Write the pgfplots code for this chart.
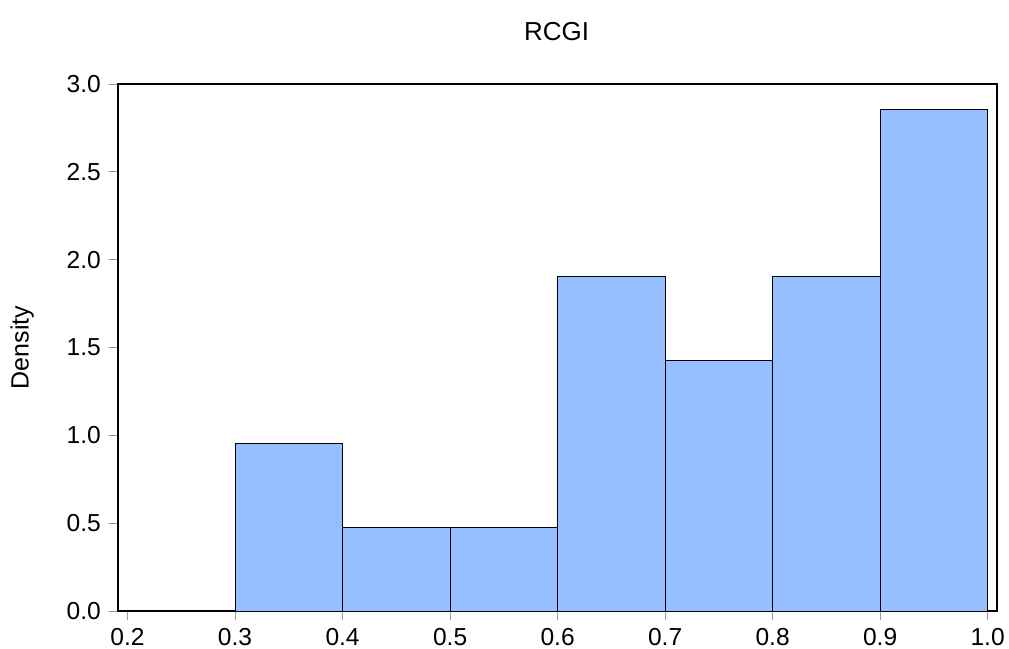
\documentclass[border=0pt]{standalone}
\usepackage{pgfplots}
\pgfplotsset{compat=1.18}
\usepackage{fontspec}
\setmainfont{Liberation Sans}
\definecolor{barfill}{RGB}{150,190,255}
\begin{document}
\begin{tikzpicture}
\path[use as bounding box] (-59pt,-18.65pt) rectangle (446pt,305.85pt);
\begin{axis}[
  scale only axis,
  width=440pt, height=263.75pt,
  xmin=0.191, xmax=1.0087,
  ymin=0, ymax=3.0,
  xtick={0.2,0.3,0.4,0.5,0.6,0.7,0.8,0.9,1.0},
  ytick={0,0.5,1.0,1.5,2.0,2.5,3.0},
  tick align=outside,
  major tick length=4.5pt,
  xtick pos=bottom, ytick pos=left,
  tick style={gray!80, line width=0.5pt},
  axis line style={black, line width=0.75pt},
  ticklabel style={font=\fontsize{12.3}{14}\selectfont},
  xticklabel style={yshift=-0.5pt},
  yticklabel style={xshift=-0.5pt},
  /pgf/number format/assume math mode=true,
  xticklabel={\pgfmathprintnumber[fixed,fixed zerofill,precision=1]{\tick}},
  yticklabel={\pgfmathprintnumber[fixed,fixed zerofill,precision=1]{\tick}},
  title={RCGI},
  title style={at={(axis description cs:0.499,1.099)}, anchor=center, yshift=-6pt, font=\fontsize{13}{15}\selectfont},
  ylabel={Density},
  ylabel style={at={(axis description cs:-0.109,0.5)}, anchor=center, font=\fontsize{12.5}{15}\selectfont},
]
\addplot[ybar interval, fill=barfill, draw=black, line width=0.5pt] coordinates {
  (0.3,0.952) (0.4,0.476) (0.5,0.476) (0.6,1.905) (0.7,1.429) (0.8,1.905) (0.9,2.857) (1.0,2.857)
};
\end{axis}
\end{tikzpicture}
\end{document}
